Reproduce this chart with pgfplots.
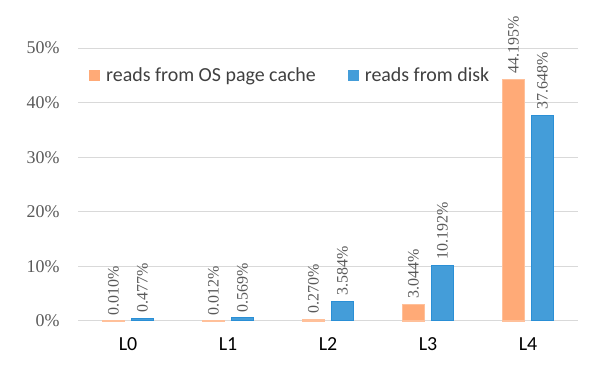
\documentclass[border=0pt]{standalone}
\usepackage{pgfplots}
\pgfplotsset{compat=1.18}
\usepackage{fontspec}
\setmainfont{Liberation Serif}
\newfontfamily\calib{Carlito}
\definecolor{orng}{HTML}{FFAA77}
\definecolor{orngE}{HTML}{FFC09A}
\definecolor{blu}{HTML}{449DD9}
\definecolor{bluE}{HTML}{2A8FD6}
\definecolor{gridc}{HTML}{D9D9D9}
\definecolor{tickc}{HTML}{595959}
\definecolor{legc}{HTML}{404040}
\begin{document}
\begin{tikzpicture}
\begin{axis}[
  at={(78bp,44bp)}, anchor=south west,
  scale only axis, width=500bp, height=273bp,
  xmin=-0.5, xmax=4.5, ymin=0, ymax=50,
  axis line style={draw=none},
  ytick={0,10,20,30,40,50},
  yticklabel={\pgfmathprintnumber{\tick}\%},
  /pgf/number format/assume math mode=true,
  yticklabel style={font=\fontsize{18}{20}\selectfont, text=tickc, xshift=-15bp},
  xtick={0,1,2,3,4},
  xticklabels={L0,L1,L2,L3,L4},
  xticklabel style={font=\calib\fontsize{20}{22}\selectfont, text=black, yshift=-13bp},
  major tick length=0pt,
  ymajorgrids, grid style={gridc, line width=1bp},
  ybar, bar width=22bp,
  nodes near coords={\pgfmathprintnumber[fixed,fixed zerofill,precision=3]{\pgfplotspointmeta}\%},
  every node near coord/.append style={rotate=90, anchor=west, font=\fontsize{16}{18}\selectfont, text=tickc, xshift=2bp},
  legend style={at={(0.022,0.901)}, anchor=west, draw=none, fill=none,
    font=\calib\fontsize{20}{22}\selectfont, text=legc, legend columns=2,
    /tikz/every odd column/.append style={column sep=4bp},
    /tikz/every even column/.append style={column sep=30bp}, inner sep=0pt},
  legend image code/.code={\fill[#1, draw=none] (0bp,-5.5bp) rectangle (11bp,5.5bp);},
  clip=false,
]
\addplot[fill=orng, draw=orngE, line width=1.2bp, bar shift=-14.5bp] coordinates {(0,0.010) (1,0.012) (2,0.270) (3,3.044) (4,44.195)};
\addplot[fill=blu, draw=bluE, line width=1bp, bar shift=14.5bp] coordinates {(0,0.477) (1,0.569) (2,3.584) (3,10.192) (4,37.648)};
\legend{reads from OS page cache, reads from disk}
\end{axis}
\path[use as bounding box] (0,0) rectangle (600bp,365bp);
\end{tikzpicture}
\end{document}
